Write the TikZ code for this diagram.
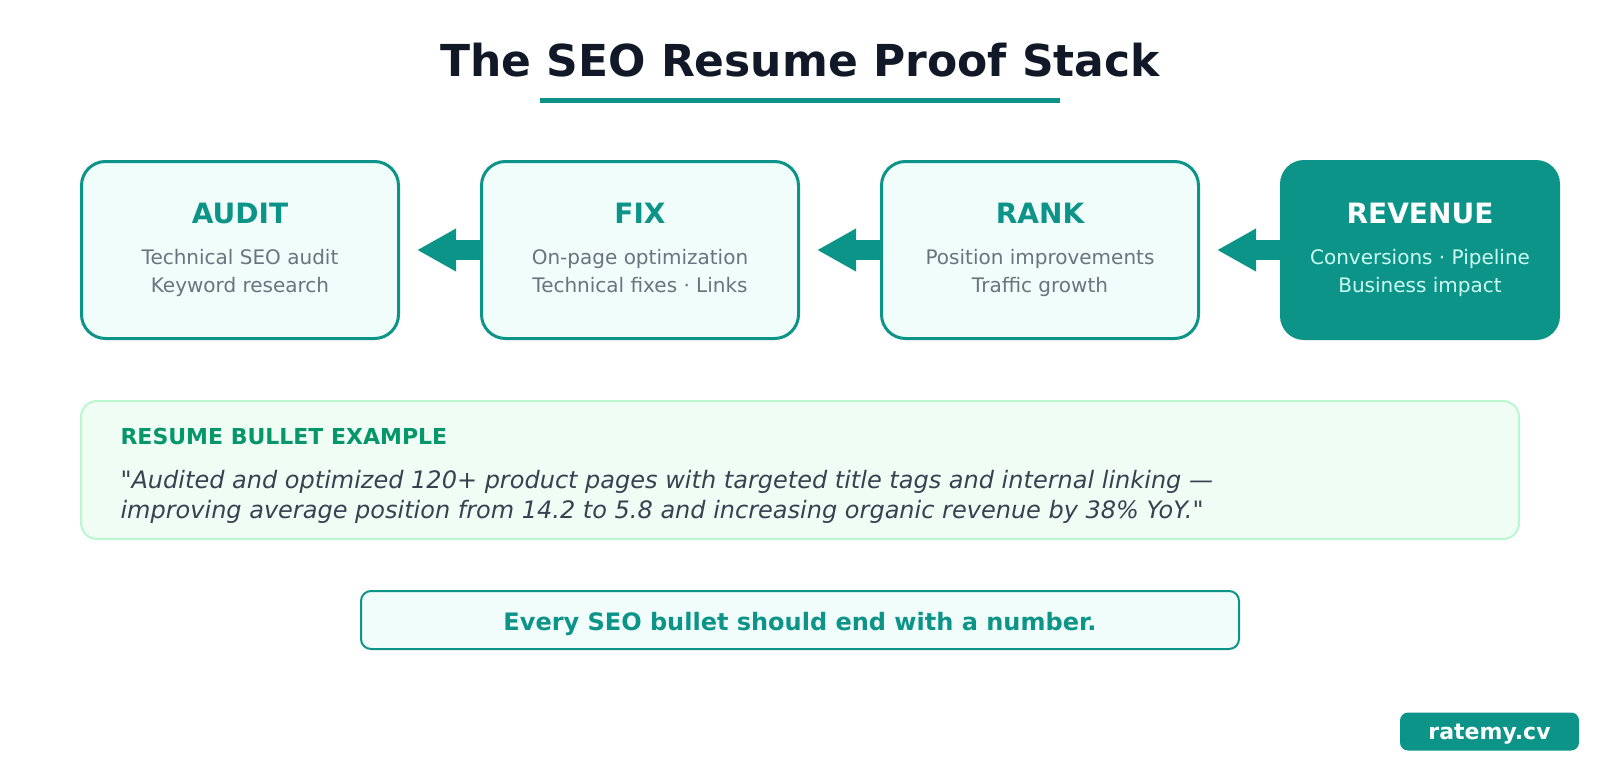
\documentclass[tikz,border=0pt]{standalone}
\usepackage{fontspec}
\setmainfont{DejaVu Sans}[Ligatures=TeXOff]
\usetikzlibrary{arrows.meta}
\definecolor{seoteal}{HTML}{0D9488}
\definecolor{tealbg}{HTML}{F0FDFA}
\definecolor{titleink}{HTML}{111827}
\definecolor{subgray}{HTML}{6B7280}
\definecolor{mintink}{HTML}{CCFBF1}
\definecolor{greenbg}{HTML}{F0FDF4}
\definecolor{greenline}{HTML}{BBF7D0}
\definecolor{labelgreen}{HTML}{059669}
\definecolor{quoteink}{HTML}{374151}
\tikzset{
  heading/.style={font=\fontsize{44}{52}\selectfont\bfseries, text=titleink, anchor=base},
  headrule/.style={draw=seoteal, line width=5pt},
  stagebox/.style={draw=seoteal, line width=3pt, rounded corners=24pt, fill=tealbg, minimum width=317pt, minimum height=177pt, inner sep=0pt},
  goalbox/.style={fill=seoteal, rounded corners=24pt, minimum width=280pt, minimum height=180pt, inner sep=0pt},
  stagetitle/.style={font=\fontsize{28}{34}\selectfont\bfseries, text=seoteal, anchor=base},
  stagetext/.style={font=\fontsize{20}{28}\selectfont, text=subgray, align=center, anchor=base},
  flowarrow/.style={line width=20pt, draw=seoteal, -{Triangle[length=39pt,width=40pt]}, shorten >=17pt},
  examplebox/.style={draw=greenline, line width=2pt, rounded corners=16pt, fill=greenbg, minimum width=1438pt, minimum height=138pt},
  examplelabel/.style={font=\fontsize{22}{26}\selectfont\bfseries, text=labelgreen, anchor=base west},
  quotetext/.style={font=\fontsize{24}{30}\selectfont\itshape, text=quoteink, align=left, anchor=base west},
  tagbox/.style={draw=seoteal, line width=2pt, rounded corners=10pt, fill=tealbg, minimum width=878pt, minimum height=58pt},
  tagtext/.style={font=\fontsize{24}{28}\selectfont\bfseries, text=seoteal, anchor=base},
  badge/.style={fill=seoteal, rounded corners=8pt, minimum width=179pt, minimum height=38pt},
  badgetext/.style={font=\fontsize{22}{26}\selectfont\bfseries, text=white, anchor=base}
}
\begin{document}
\begin{tikzpicture}[x=1pt, y=-1pt]
  \fill[white] (0,0) rectangle (1600,760);
  \useasboundingbox (0,0) rectangle (1600,760);

  % heading
  \node[heading] (heading) at (800,77) {The SEO Resume Proof Stack};
  \coordinate (ruleL) at (540,100);
  \coordinate (ruleR) at (1060,100);
  \draw[headrule] (ruleL) -- (ruleR);

  % stages
  \node[stagebox] (audit) at (240,250) {};
  \node[stagebox] (fix) at (640,250) {};
  \node[stagebox] (rank) at (1040,250) {};
  \node[goalbox] (revenue) at (1420,250) {};

  \node[stagetitle] (audit-t) at (240,223) {AUDIT};
  \node[stagetext] (audit-s) at (240,292) {Technical SEO audit\\Keyword research};
  \node[stagetitle] (fix-t) at (640,223) {FIX};
  \node[stagetext] (fix-s) at (640,292) {On-page optimization\\Technical fixes · Links};
  \node[stagetitle] (rank-t) at (1040,223) {RANK};
  \node[stagetext] (rank-s) at (1040,292) {Position improvements\\Traffic growth};
  \node[stagetitle, text=white] (revenue-t) at (1420,223) {REVENUE};
  \node[stagetext, text=mintink] (revenue-s) at (1420,292) {Conversions · Pipeline\\Business impact};

  \draw[flowarrow] (fix.west) -- (audit.east);
  \draw[flowarrow] (rank.west) -- (fix.east);
  \draw[flowarrow] (revenue.west) -- (rank.east);

  % example bullet
  \node[examplebox] (example) at (800,470) {};
  \node[examplelabel] (example-l) at (117,444) {RESUME BULLET EXAMPLE};
  \node[quotetext] (example-q) at (117,518) {"Audited and optimized 120+ product pages with targeted title tags and internal linking —\\improving average position from 14.2 to 5.8 and increasing organic revenue by 38\% YoY."};

  % takeaway and badge
  \node[tagbox] (takeaway) at (800,620) {};
  \node[tagtext] (takeaway-t) at (800,630) {Every SEO bullet should end with a number.};
  \node[badge] (brand) at (1489.5,731.5) {};
  \node[badgetext] (brand-t) at (1489.5,739) {ratemy.cv};
\end{tikzpicture}
\end{document}
